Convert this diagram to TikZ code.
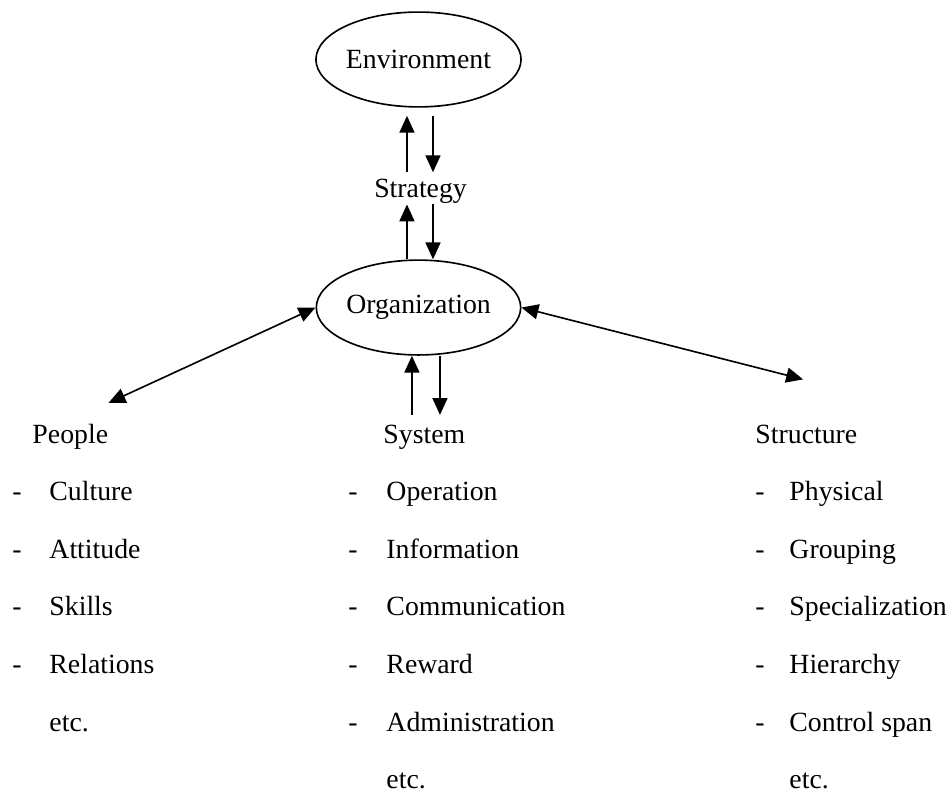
\documentclass[tikz,border=0pt]{standalone}
\usepackage{fontspec}
\setmainfont{Liberation Serif}
\usetikzlibrary{arrows.meta, positioning, shapes.geometric}

\begin{document}
\begin{tikzpicture}[
    oval/.style={ellipse, draw, line width=0.7pt, minimum width=2.93cm,
                 minimum height=1.44cm, inner sep=0pt},
    arrow/.style={-{Triangle[length=7.3pt, width=6.5pt]}, line width=0.7pt},
    twoway/.style={{Triangle[length=7.3pt, width=6.5pt]}-{Triangle[length=7.3pt, width=6.5pt]}, line width=0.7pt},
    head/.style={anchor=base west, inner sep=0pt},
    every node/.style={font=\fontsize{12pt}{14pt}\selectfont}
]
\useasboundingbox (0,0) rectangle (14.454,-12.055);

% Centre column
\node[oval] (env) at (6.354,-0.903) {Environment};
\node[inner sep=0pt, anchor=base] (strategy) at (6.385,-3.006) {Strategy};
\node[oval] (org) at (6.354,-4.669) {Organization};

% People
\node[head] (people) at (0.486,-6.726) {People};
\foreach \txt [count=\i] in {Culture, Attitude, Skills, Relations}
  \node[head] (people\i) at (0.182,{-6.726-0.875*\i}) {\makebox[0.562cm][l]{-}\txt};
\node[head] (peopleetc) at (0.744,{-6.726-0.875*5}) {etc.};

% System
\node[head] (system) at (5.815,-6.726) {System};
\foreach \txt [count=\i] in {Operation, Information, Communication, Reward, Administration}
  \node[head] (system\i) at (5.284,{-6.726-0.875*\i}) {\makebox[0.577cm][l]{-}\txt};
\node[head] (systemetc) at (5.861,{-6.726-0.875*6}) {etc.};

% Structure
\node[head] (structure) at (11.463,-6.726) {Structure};
\foreach \txt [count=\i] in {Physical, Grouping, Specialization, Hierarchy, Control span}
  \node[head] (structure\i) at (11.463,{-6.726-0.875*\i}) {\makebox[0.516cm][l]{-}\txt};
\node[head] (structureetc) at (11.979,{-6.726-0.875*6}) {etc.};

% Free arrow ends
\coordinate[above=0.31cm of people.north east] (peopletip);
\coordinate[above right=0.68cm and 0.73cm of structure.north west] (structtip);

% Vertical arrows
\draw[arrow] ([xshift=-0.175cm, yshift=3pt]org.north |- strategy.north) -- ([xshift=-0.175cm, yshift=-3.5pt]env.south);
\draw[arrow] ([xshift=0.22cm, yshift=-3.5pt]env.south) -- ([xshift=0.22cm, yshift=3pt]org.north |- strategy.north);
\draw[arrow] ([xshift=-0.175cm]org.north) -- ([xshift=-0.175cm]org.north |- strategy.south);
\draw[arrow] ([xshift=0.22cm]org.north |- strategy.south) -- ([xshift=0.22cm]org.north);
\draw[arrow] ([xshift=-0.1cm, yshift=4pt]org.south |- system.north) -- ([xshift=-0.1cm]org.south);
\draw[arrow] ([xshift=0.326cm]org.south) -- ([xshift=0.326cm, yshift=4pt]org.south |- system.north);

% Side arrows
\draw[twoway] (peopletip) -- (org.west);
\draw[twoway] (org.east) -- (structtip);

\end{tikzpicture}
\end{document}
